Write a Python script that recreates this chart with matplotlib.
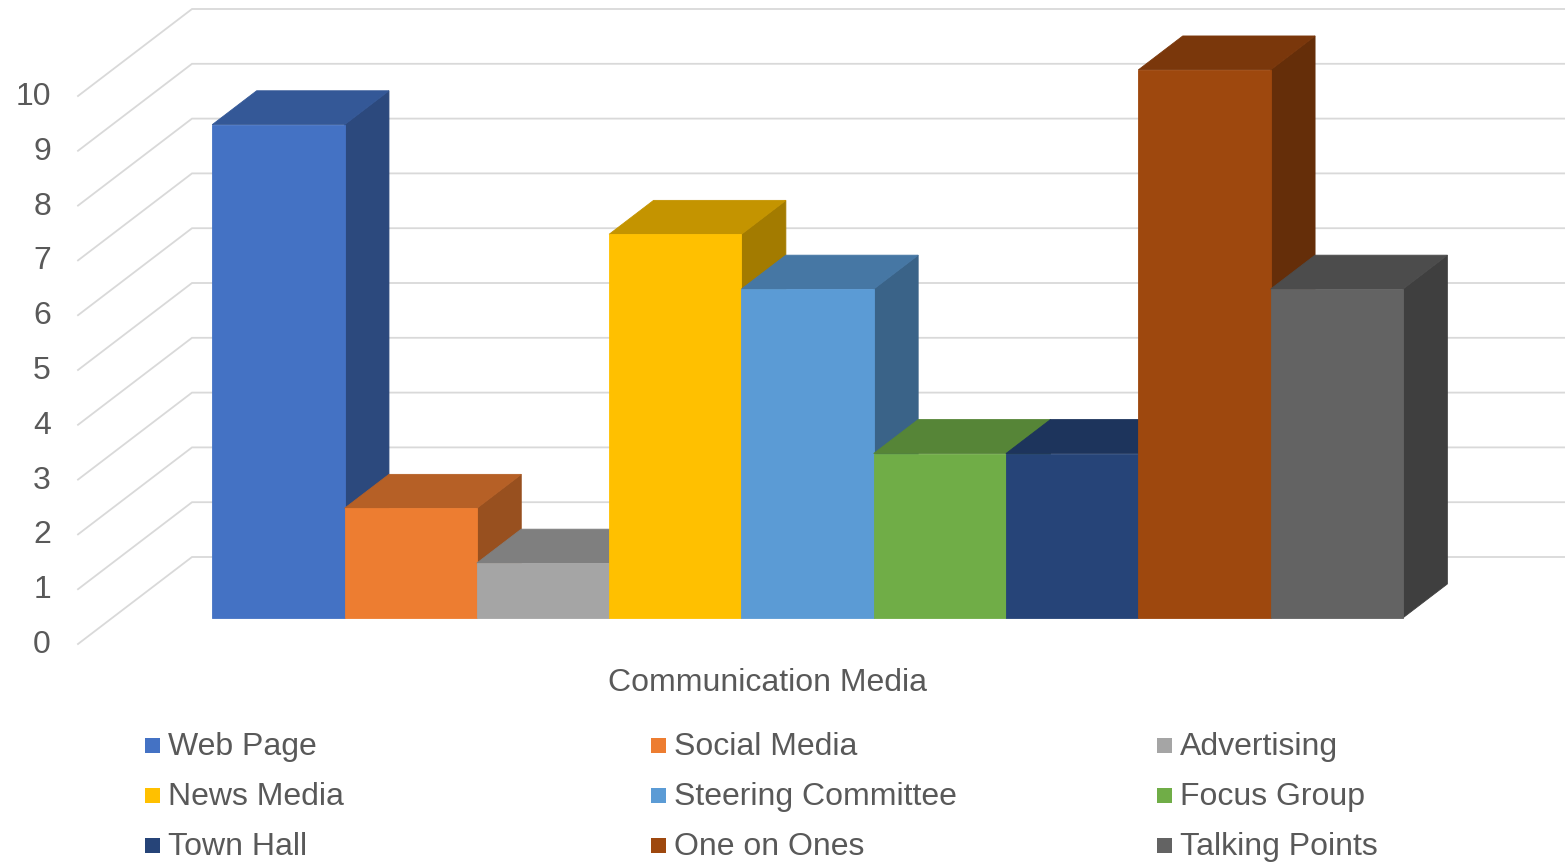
import matplotlib
matplotlib.use('Agg')
import matplotlib.pyplot as plt
from matplotlib.patches import Polygon, Rectangle
from matplotlib.colors import to_rgb

# data
categories = ['Web Page', 'Social Media', 'Advertising', 'News Media', 'Steering Committee',
              'Focus Group', 'Town Hall', 'One on Ones', 'Talking Points']
values = [9, 2, 1, 7, 6, 3, 3, 10, 6]
colors = ['#4472C4', '#ED7D31', '#A5A5A5', '#FFC000', '#5B9BD5',
          '#70AD47', '#264478', '#9E480E', '#636363']
y_ticks = list(range(0, 11))
x_title = 'Communication Media'

plt.rcParams['font.family'] = ['Liberation Sans', 'DejaVu Sans']
TXT = '#595959'
FS = 23

W, H = 1565, 864
fig = plt.figure(figsize=(W / 100, H / 100), dpi=100)
ax = fig.add_axes([0, 0, 1, 1])
ax.set_xlim(0, W)
ax.set_ylim(H, 0)
ax.axis('off')

# oblique projection: (category slot, value, depth 0..1) -> figure position
X0, BW = 178, 132.3
Y0, U = 644, 54.8
DX, DY = 114, 87
WALL_X = (78 - X0) / BW          # left wall in slot units
RIGHT_X = (1565 - DX - X0) / BW  # right end of back wall
Z_FRONT, Z_BACK = 0.30, 0.69     # depth span of the bars


def proj(x, v, z):
    return (X0 + x * BW + z * DX, Y0 - v * U - z * DY)


def shade(c, f):
    r, g, b = to_rgb(c)
    return (r * f, g * f, b * f)


# walls: diagonal gridlines on the side wall, horizontal on the back wall
for v in y_ticks:
    p0 = proj(WALL_X, v, 0)
    p1 = proj(WALL_X, v, 1)
    p2 = proj(RIGHT_X, v, 1)
    ax.plot([p0[0], p1[0], p2[0]], [p0[1], p1[1], p2[1]],
            color='#D9D9D9', lw=1.3, zorder=1, solid_joinstyle='miter')
    ax.text(p0[0] - 27, p0[1] + 1, str(v), ha='right', va='center',
            fontsize=FS, color=TXT)

# bars, left to right so later boxes cover earlier side faces
for i, (v, c) in enumerate(zip(values, colors)):
    side = [proj(i + 1, 0, Z_FRONT), proj(i + 1, v, Z_FRONT),
            proj(i + 1, v, Z_BACK), proj(i + 1, 0, Z_BACK)]
    top = [proj(i, v, Z_FRONT), proj(i + 1, v, Z_FRONT),
           proj(i + 1, v, Z_BACK), proj(i, v, Z_BACK)]
    front = [proj(i, 0, Z_FRONT), proj(i + 1, 0, Z_FRONT),
             proj(i + 1, v, Z_FRONT), proj(i, v, Z_FRONT)]
    for pts, col in [(side, shade(c, 0.64)), (top, shade(c, 0.77)), (front, to_rgb(c))]:
        ax.add_patch(Polygon(pts, closed=True, facecolor=col, edgecolor=col,
                             lw=0.6, zorder=2 + i))

# axis title
ax.text(768, 683, x_title, ha='center', va='center', fontsize=FS, color=TXT)

# legend, 3 columns filled row by row
leg_x = [145, 651, 1157]
leg_y = [745, 795, 845]
for k, (name, c) in enumerate(zip(categories, colors)):
    lx = leg_x[k % 3]
    ly = leg_y[k // 3]
    ax.add_patch(Rectangle((lx, ly - 7.5), 15, 15, facecolor=c, edgecolor='none'))
    ax.text(lx + 23, ly + 2, name, ha='left', va='center', fontsize=FS, color=TXT)

fig.savefig('out.png', dpi=100)
